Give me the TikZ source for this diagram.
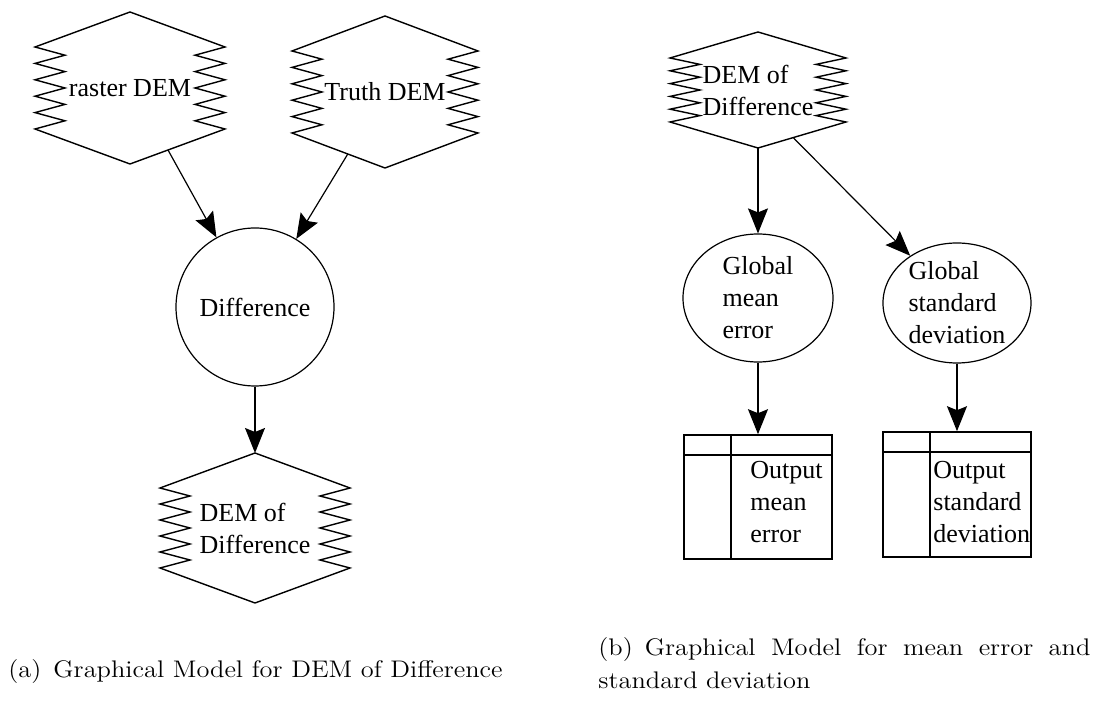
\documentclass[tikz,border=0pt]{standalone}
\usepackage{fontspec}
\usetikzlibrary{arrows.meta,calc,shapes.geometric}
\newfontfamily\diafont{Liberation Serif}
\newfontfamily\capfont{Latin Modern Roman}[FakeStretch=1.1]
\newcommand{\zigdepth}{30}
\newcommand{\diasize}{\diafont\fontsize{13}{16}\selectfont}
\tikzset{
    demsty/.style={align=left,inner sep=0pt,font=\diasize},
    hexsty/.style={line width=0.7pt,line join=miter},
    opsty/.style={draw,ellipse,align=left,inner sep=0pt,line width=0.6pt,font=\diasize},
    diffsty/.style={draw,circle,inner sep=0pt,line width=0.6pt,minimum size=79pt,font=\diasize},
    outsty/.style={draw,rectangle,line width=0.8pt,minimum width=74pt,inner sep=0pt},
    otxtsty/.style={anchor=west,align=left,inner sep=0pt,font=\diasize},
    capsty/.style={inner sep=0pt,font=\capfont\fontsize{12}{16.5}\selectfont},
    arrsty/.style={-{Stealth[length=12.5pt,width=10pt,inset=2pt]},line width=0.6pt},
}

% zigzag hexagon round a node: #1 node, #2 half width, #3 half side, #4 cap height
\newcommand{\demhex}[4]{
  \draw[hexsty,shift={(#1.center)}] (0,{-#3-#4}) coordinate (#1-n) -- (#2,-#3)
    \foreach \k in {1,...,5} {-- ({#2-\zigdepth},{-#3+(\k-0.5)*#3*0.4}) -- (#2,{-#3+\k*#3*0.4})}
    -- coordinate[pos=0.6] (#1-se) (0,{#3+#4}) coordinate (#1-s)
    -- coordinate[pos=0.4] (#1-sw) (-#2,#3)
    \foreach \k in {1,...,5} {-- ({-#2+\zigdepth},{#3-(\k-0.5)*#3*0.4}) -- (-#2,{#3-\k*#3*0.4})}
    -- cycle;
}
% header row and key column of an output table
\newcommand{\outlines}[1]{
  \draw[line width=0.8pt] ($(#1.north west)+(0,21)$) -- ($(#1.north east)+(0,21)$);
  \draw[line width=0.8pt] ($(#1.north west)+(48,0)$) -- ($(#1.south west)+(48,0)$);
}

\begin{document}
\begin{tikzpicture}[x=0.5pt,y=-0.5pt]
  \useasboundingbox (0,0) rectangle (1110,710);

  % (a)
  \node[demsty] (raster) at (130,88) {raster DEM};
  \node[demsty] (truth) at (385,92) {Truth DEM};
  \node[diffsty] (diff) at (255,307) {Difference};
  \node[demsty] (demdiff) at (255,528) {DEM of\\Difference};
  \demhex{raster}{95}{41}{35}
  \demhex{truth}{93}{41}{35}
  \demhex{demdiff}{95}{40}{35}

  \draw[arrsty] (raster-se) -- (diff);
  \draw[arrsty] (truth-sw) -- (diff);
  \draw[arrsty] (diff) -- (demdiff-n);

  % (b)
  \node[demsty] (bdiff) at (758,90) {DEM of\\Difference};
  \demhex{bdiff}{88}{32}{26}
  \node[opsty,minimum width=75pt,minimum height=64pt] (gmean) at (758,298) {Global\\mean\\error};
  \node[opsty,minimum width=74pt,minimum height=60pt] (gstd) at (957,303) {Global\\standard\\deviation};
  \node[outsty,minimum height=62pt] (omean) at (758,497) {};
  \node[outsty,minimum height=62.5pt] (ostd) at (957,494.5) {};
  \outlines{omean}
  \outlines{ostd}
  \node[otxtsty] (omeantxt) at (750,502) {Output\\mean\\error};
  \node[otxtsty] (ostdtxt) at (933,502) {Output\\standard\\deviation};

  \draw[arrsty] (bdiff-s) -- (gmean);
  \draw[arrsty] (bdiff-se) -- (gstd);
  \draw[arrsty] (gmean) -- (omean);
  \draw[arrsty] (gstd) -- (ostd);

  % captions
  \node[capsty,anchor=base west] (capa) at (8,678) {(a)\enskip Graphical Model for DEM of Difference};
  \node[capsty,anchor=north west,text width=246pt,align=justify] (capb) at (598,637)
    {(b)\enskip Graphical Model for mean error and\linebreak standard deviation};
\end{tikzpicture}
\end{document}
